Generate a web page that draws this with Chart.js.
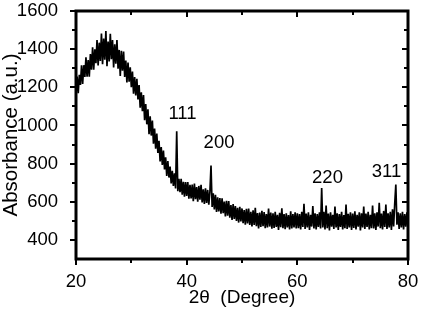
<!DOCTYPE html>
<html lang="en">
<head>
  <meta charset="UTF-8">
  <title>XRD Pattern</title>
  <script src="https://cdn.jsdelivr.net/npm/chart.js"></script>
  <style>
    body {
      margin: 0;
      background-color: white;
    }
    .chart-container {
      position: relative;
      width: 427px;
      height: 315px;
    }
  </style>
</head>
<body>
  <div class="chart-container">
    <canvas id="xrdChart"></canvas>
  </div>
  <script>
    // Scan: 2-theta from 20 to 80 deg, step 0.2 deg
    const scanStart = 20;
    const scanStep = 0.2;

    // Intensity, one list per 10 degrees
    const intensity20to30 = [
      1160, 1257, 1169, 1266, 1213, 1315, 1218, 1316, 1254, 1357,
      1255, 1343, 1256, 1374, 1292, 1410, 1292, 1399, 1326, 1448,
      1315, 1434, 1338, 1482, 1321, 1455, 1345, 1495, 1310, 1440,
      1335, 1481, 1347, 1448, 1304, 1425, 1324, 1448, 1297, 1396,
      1260, 1391, 1287, 1388, 1254, 1340, 1225, 1330, 1230, 1305
    ];
    const intensity30to40 = [
      1200, 1283, 1166, 1254, 1157, 1245, 1136, 1212, 1093, 1174,
      1075, 1159, 1028, 1112, 1006, 1085, 954, 1048, 947, 1026,
      905, 984, 878, 957, 856, 920, 811, 887, 793, 869,
      770, 833, 736, 814, 727, 785, 696, 762, 683, 749,
      670, 970, 655, 720, 650, 720, 637, 704, 626, 703
    ];
    const intensity40to50 = [
      630, 703, 616, 689, 617, 690, 603, 696, 614, 677,
      600, 683, 611, 689, 597, 665, 588, 671, 594, 662,
      585, 652, 790, 573, 644, 560, 636, 547, 623, 549,
      620, 537, 618, 540, 601, 523, 605, 527, 604, 516,
      583, 505, 588, 510, 578, 500, 568, 491, 574, 497
    ];
    const intensity50to60 = [
      565, 488, 556, 480, 563, 486, 565, 478, 547, 471,
      555, 479, 568, 472, 541, 460, 544, 468, 552, 472,
      546, 461, 535, 465, 565, 470, 544, 459, 539, 463,
      548, 468, 532, 452, 542, 467, 566, 461, 536, 456,
      540, 465, 530, 455, 550, 460, 535, 465, 545, 460
    ];
    const intensity60to70 = [
      540, 462, 535, 455, 548, 468, 590, 458, 538, 466,
      545, 452, 532, 470, 578, 460, 540, 455, 535, 468,
      545, 460, 672, 465, 548, 455, 580, 462, 538, 450,
      545, 470, 532, 458, 575, 465, 540, 452, 535, 468,
      548, 455, 530, 462, 585, 458, 537, 465, 545, 452
    ];
    const intensity70to80 = [
      538, 463, 550, 455, 532, 470, 545, 450, 540, 466,
      575, 458, 538, 468, 548, 455, 532, 462, 580, 460,
      540, 452, 545, 470, 595, 462, 538, 455, 552, 468,
      585, 458, 540, 465, 548, 452, 560, 470, 590, 690,
      480, 545, 458, 540, 465, 548, 455, 535, 470, 545,
      462
    ];

    // Peak labels (hkl) and where they sit, in data units
    const peakLabels = ['111', '200', '220', '311'];
    const peakLabelX = [39.25, 45.85, 65.45, 76.1];
    const peakLabelY = [1063, 906, 725, 756];

    const yTicks = [400, 600, 800, 1000, 1200, 1400, 1600];
    const xTicks = [20, 40, 60, 80];

    const intensity = [].concat(intensity20to30, intensity30to40, intensity40to50,
      intensity50to60, intensity60to70, intensity70to80);
    const points = intensity.map((v, i) => ({ x: +(scanStart + i * scanStep).toFixed(1), y: v }));

    const FONT = 'Arial, "Liberation Sans", sans-serif';

    // Frame, tick marks and peak labels
    const framePlugin = {
      id: 'frame',
      afterDatasetsDraw(chart) {
        const ctx = chart.ctx;
        const a = chart.chartArea;
        const xs = chart.scales.x;
        const ys = chart.scales.y;
        ctx.save();
        ctx.strokeStyle = '#000';
        ctx.lineWidth = 2;
        // x ticks: bottom outward, top inward
        for (let v = 20; v <= 80; v += 10) {
          const px = Math.round(xs.getPixelForValue(v));
          const len = v % 20 === 0 ? 6 : 4;
          ctx.beginPath();
          ctx.moveTo(px, a.bottom);
          ctx.lineTo(px, a.bottom + len);
          ctx.moveTo(px, a.top);
          ctx.lineTo(px, a.top + len);
          ctx.stroke();
        }
        // y ticks: left outward, right inward
        for (let v = 400; v <= 1600; v += 100) {
          const py = Math.round(ys.getPixelForValue(v));
          const len = v % 200 === 0 ? 6 : 4;
          ctx.beginPath();
          ctx.moveTo(a.left, py);
          ctx.lineTo(a.left - len, py);
          ctx.moveTo(a.right, py);
          ctx.lineTo(a.right - len, py);
          ctx.stroke();
        }
        // box
        ctx.lineWidth = 3;
        ctx.strokeRect(a.left, a.top, a.right - a.left, a.bottom - a.top);

        ctx.fillStyle = '#000';
        ctx.font = '18.5px ' + FONT;
        ctx.textAlign = 'center';
        ctx.textBaseline = 'middle';
        peakLabels.forEach((t, i) => {
          ctx.fillText(t, xs.getPixelForValue(peakLabelX[i]), ys.getPixelForValue(peakLabelY[i]));
        });
        ctx.restore();
      }
    };

    new Chart(document.getElementById('xrdChart'), {
      type: 'line',
      data: {
        datasets: [{
          data: points,
          borderColor: '#000',
          borderWidth: 1.7,
          borderJoinStyle: 'bevel',
          pointRadius: 0,
          fill: false,
          tension: 0
        }]
      },
      options: {
        responsive: true,
        maintainAspectRatio: false,
        animation: false,
        events: [],
        layout: { padding: { top: 11, right: 19, left: 0, bottom: 0 } },
        plugins: {
          legend: { display: false },
          tooltip: { enabled: false }
        },
        scales: {
          x: {
            type: 'linear',
            min: 20,
            max: 80,
            afterBuildTicks: s => { s.ticks = xTicks.map(v => ({ value: v })); },
            afterFit: s => { s.height = 56; s.paddingLeft = 0; s.paddingRight = 0; },
            grid: { display: false },
            border: { display: false },
            ticks: { color: '#000', font: { size: 18.5, family: FONT }, padding: 4, maxRotation: 0,
              callback: v => String(v) },
            title: {
              display: true,
              text: '2\u03b8  (Degree)',
              color: '#000',
              font: { size: 19, family: FONT },
              padding: { top: 0, bottom: 6 }
            }
          },
          y: {
            min: 300,
            max: 1600,
            afterBuildTicks: s => { s.ticks = yTicks.map(v => ({ value: v })); },
            afterFit: s => { s.width = 76; s.paddingTop = 0; s.paddingBottom = 0; },
            grid: { display: false },
            border: { display: false },
            ticks: { color: '#000', font: { size: 18.5, family: FONT }, padding: 10,
              callback: v => String(v) },
            title: {
              display: true,
              text: 'Absorbance (a.u.)',
              color: '#000',
              font: { size: 20.5, family: FONT, lineHeight: 1 },
              padding: { top: 1, bottom: 0 }
            }
          }
        }
      },
      plugins: [framePlugin]
    });
  </script>
</body>
</html>
